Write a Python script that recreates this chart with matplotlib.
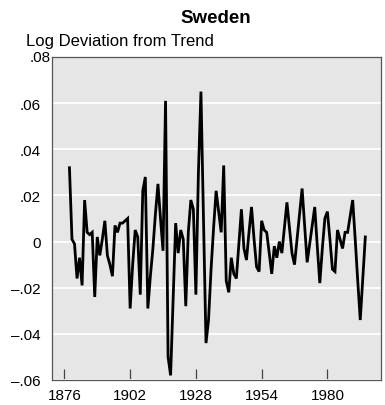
import matplotlib
matplotlib.use("Agg")
import matplotlib.pyplot as plt
import numpy as np

plt.rcParams['font.family'] = ['Liberation Sans', 'DejaVu Sans']

first_year = 1878
# log deviation from trend, one value per year
deviation = [
    0.032, 0.001, -0.001, -0.016, -0.007, -0.019, 0.018, 0.004, 0.003, 0.004,      # 1878-1887
    -0.024, 0.002, -0.006, 0.001, 0.009, -0.006, -0.010, -0.015, 0.007, 0.004,     # 1888-1897
    0.008, 0.008, 0.009, 0.010, -0.029, -0.010, 0.005, 0.002, -0.023, 0.022,       # 1898-1907
    0.028, -0.029, -0.015, -0.003, 0.012, 0.025, 0.010, -0.004, 0.061, -0.050,     # 1908-1917
    -0.058, -0.025, 0.008, -0.005, 0.005, 0.001, -0.028, 0.004, 0.018, 0.014,      # 1918-1927
    -0.023, 0.030, 0.065, 0.010, -0.044, -0.034, -0.012, 0.006, 0.022, 0.013,      # 1928-1937
    0.004, 0.033, -0.017, -0.022, -0.007, -0.014, -0.016, -0.001, 0.014, -0.003,   # 1938-1947
    -0.008, 0.004, 0.015, 0.001, -0.011, -0.013, 0.009, 0.005, 0.004, -0.005,      # 1948-1957
    -0.014, -0.002, -0.007, 0.000, -0.005, 0.006, 0.017, 0.006, -0.005, -0.010,    # 1958-1967
    0.001, 0.012, 0.023, 0.007, -0.009, -0.001, 0.007, 0.015, -0.002, -0.018,      # 1968-1977
    -0.003, 0.010, 0.013, 0.001, -0.012, -0.013, 0.005, 0.001, -0.003, 0.004,      # 1978-1987
    0.004, 0.011, 0.018, 0.001, -0.017, -0.034, -0.016, 0.002,                     # 1988-1995
]
years = np.arange(first_year, first_year + len(deviation))

x_ticks = [1876, 1902, 1928, 1954, 1980]
y_ticks = [-0.06, -0.04, -0.02, 0, 0.02, 0.04, 0.06, 0.08]
y_labels = ['\u2013.06', '\u2013.04', '\u2013.02', '0', '.02', '.04', '.06', '']

fig = plt.figure(figsize=(3.85, 4.06), dpi=100)
ax = fig.add_axes([52 / 385, 25 / 406, 329 / 385, 323 / 406])
ax.set_facecolor('#e6e6e6')

ax.plot(years, deviation, color='black', linewidth=2.0, solid_joinstyle='miter', zorder=3)

ax.set_xlim(1871.1, 2001.2)
ax.set_ylim(-0.06, 0.08)
ax.set_xticks(x_ticks)
ax.set_yticks(y_ticks)
ax.set_yticklabels(y_labels)
ax.grid(axis='y', color='white', linewidth=1.3, zorder=1)
ax.set_axisbelow(True)

ax.tick_params(axis='x', direction='in', length=8, width=0.9, color='#444444',
               labelsize=11, pad=6)
ax.tick_params(axis='y', length=0, labelsize=11, pad=8)
for s in ax.spines.values():
    s.set_color('#555555')
    s.set_linewidth(0.9)

# top label sits a bit to the right of the others
ax.text(-0.003, 0.08, '.08', transform=ax.get_yaxis_transform(), ha='right', va='center',
        fontsize=11)

fig.text(216 / 385, 1 - 22.7 / 406, 'Sweden', ha='center', va='baseline',
         fontsize=13.5, fontweight='bold')
fig.text(26 / 385, 1 - 46 / 406, 'Log Deviation from Trend', ha='left', va='baseline',
         fontsize=12)

plt.savefig('out.png', dpi=100)
plt.close()
